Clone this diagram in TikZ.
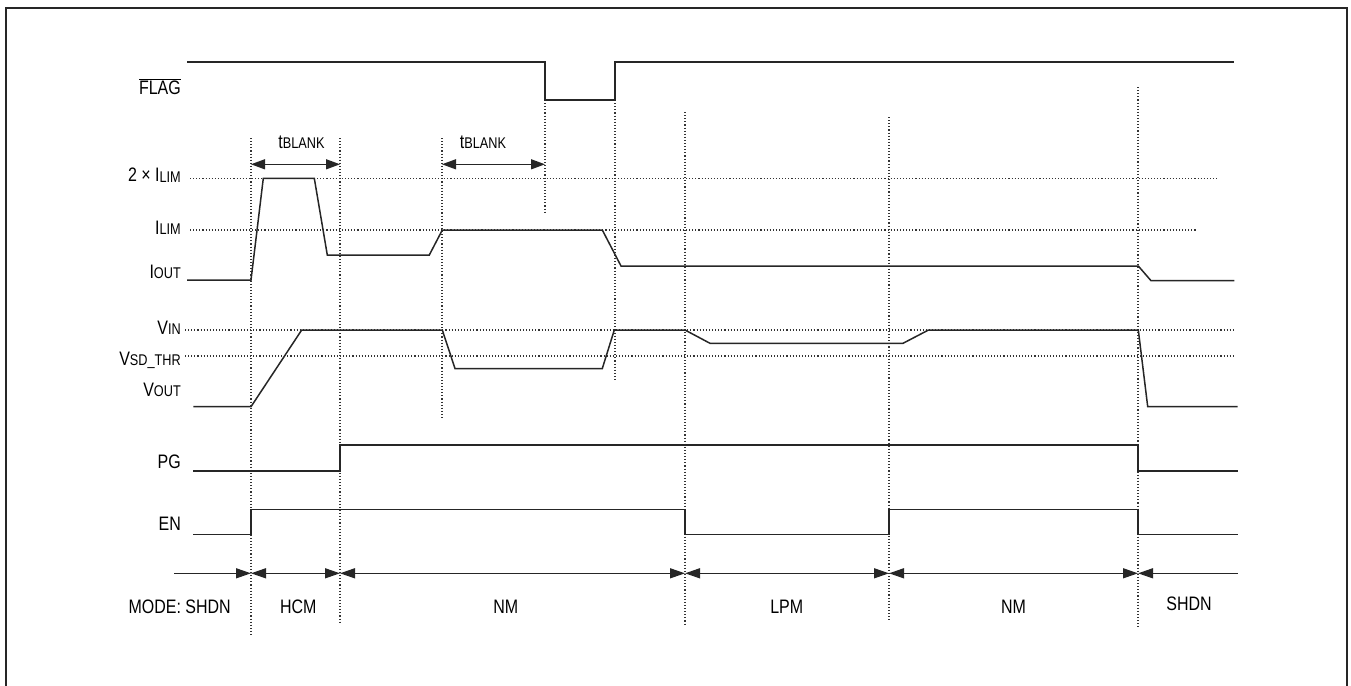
\documentclass[tikz,border=0pt]{standalone}
\usepackage{fontspec}
\setmainfont{Liberation Sans}[FakeStretch=0.82]
\usetikzlibrary{arrows.meta}
\newcommand{\lsub}[1]{\raisebox{-0.8pt}{\fontsize{15.5}{15.5}\selectfont #1}}
\tikzset{mtip/.tip={Triangle[length=15pt,width=10pt]},
         btip/.tip={Triangle[length=14pt,width=10pt]}}
\begin{document}
\begin{tikzpicture}[x=1pt,y=-1pt,
  lbl/.style={inner sep=0pt, font=\fontsize{19.5}{19.5}\selectfont},
  sig/.style={line width=1.5pt, line join=miter, black!85},
  dotline/.style={line width=1.1pt, dash pattern=on 1.1pt off 2pt, black!80},
  modearrow/.style={line width=1.4pt, black!85}]
\useasboundingbox (0,0) rectangle (1351,685);
\draw[line width=2pt, black!85] (6,8) rectangle (1347,692);

% horizontal dotted reference lines
\draw[dotline] (190,178.3) -- (1218,178.3);
\draw[dotline] (190,230) -- (1197,230);
\draw[dotline] (185,330) -- (1233,330);
\draw[dotline] (185,356) -- (1233,356);

% vertical dotted lines
\draw[dotline] (251,138) -- (251,637);
\draw[dotline] (340,138) -- (340,623);
\draw[dotline] (442,138) -- (442,420);
\draw[dotline] (545,100) -- (545,214);
\draw[dotline] (615,100) -- (615,380);
\draw[dotline] (685,112) -- (685,625);
\draw[dotline] (889,117) -- (889,622);
\draw[dotline] (1138,87) -- (1138,627);

% labels
\node[lbl, anchor=base east] (lflag) at (181,94) {$\overline{\mbox{FLAG}}$};
\node[lbl, anchor=base east] (l2ilim) at (181,181.5) {2 × I\lsub{LIM}};
\node[lbl, anchor=base east] (lilim) at (181,234) {I\lsub{LIM}};
\node[lbl, anchor=base east] (liout) at (181,278) {I\lsub{OUT}};
\node[lbl, anchor=base east] (lvin) at (181,334) {V\lsub{IN}};
\node[lbl, anchor=base east] (lvsd) at (181,365) {V\lsub{SD\_THR}};
\node[lbl, anchor=base east] (lvout) at (181,396) {V\lsub{OUT}};
\node[lbl, anchor=base east] (lpg) at (181,468) {PG};
\node[lbl, anchor=base east] (len) at (181,530.5) {EN};

% FLAG
\draw[sig] (187,62) -- (545,62) -- (545,100) -- (615,100) -- (615,62) -- (1234,62);
% IOUT
\draw[sig] (187,280) -- (251,280) -- (263.3,178.3) -- (314.3,178.3) -- (327.3,255)
  -- (429.3,255) -- (442.3,230) -- (602.3,230) -- (621,266) -- (1138.3,266)
  -- (1151,280.7) -- (1234.3,280.7);
% VOUT
\draw[sig] (193.3,406.7) -- (251,406.7) -- (301.7,330) -- (442.3,330) -- (455,368.5)
  -- (602.3,368.5) -- (614.3,330) -- (685,330) -- (710,343.3) -- (903,343.3)
  -- (928.5,330) -- (1138.3,330) -- (1147.7,406.7) -- (1237.7,406.7);
% PG
\draw[sig] (193.3,471) -- (340,471) -- (340,445) -- (1138,445) -- (1138,471) -- (1237.7,471);
% EN
\draw[sig] (193.3,534.5) -- (251,534.5) -- (251,509.3) -- (685,509.3) -- (685,534.5)
  -- (889,534.5) -- (889,509.3) -- (1138,509.3) -- (1138,534.5) -- (1237.7,534.5);

% tBLANK arrows
\draw[modearrow, btip-btip] (251,164.3) -- (340,164.3);
\draw[modearrow, btip-btip] (442,164.3) -- (545,164.3);
\node[lbl, anchor=base] (tb1) at (301.5,148) {t\lsub{BLANK}};
\node[lbl, anchor=base] (tb2) at (483,148) {t\lsub{BLANK}};

% mode arrows
\draw[modearrow, -mtip] (174,573.3) -- (251,573.3);
\draw[modearrow, mtip-mtip] (251,573.3) -- (340,573.3);
\draw[modearrow, mtip-mtip] (340,573.3) -- (685,573.3);
\draw[modearrow, mtip-mtip] (685,573.3) -- (889,573.3);
\draw[modearrow, mtip-mtip] (889,573.3) -- (1138,573.3);
\draw[modearrow, mtip-] (1138,573.3) -- (1237.7,573.3);

% mode labels
\node[lbl, anchor=base] (m1) at (179.7,613) {MODE: SHDN};
\node[lbl, anchor=base] (m2) at (298.3,613) {HCM};
\node[lbl, anchor=base] (m3) at (505.8,613) {NM};
\node[lbl, anchor=base] (m4) at (786.7,613) {LPM};
\node[lbl, anchor=base] (m5) at (1013.5,613) {NM};
\node[lbl, anchor=base] (m6) at (1189,610.5) {SHDN};
\end{tikzpicture}
\end{document}
